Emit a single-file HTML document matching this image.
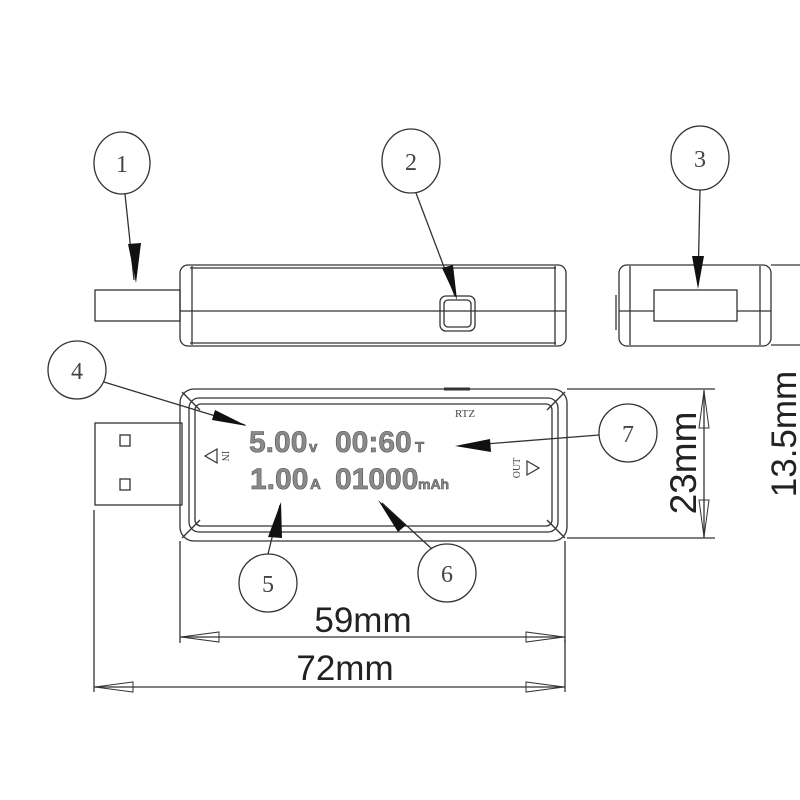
<!DOCTYPE html>
<html><head><meta charset="utf-8"><style>
html,body{margin:0;padding:0;background:#fff}
svg{display:block}
.t{font-family:"Liberation Serif",serif;fill:#444}
.d{font-family:"Liberation Sans",sans-serif;fill:#8a8a8a;stroke:#555;stroke-width:0.6;font-weight:bold}
.m{font-family:"Liberation Sans",sans-serif;fill:#222}
</style></head><body>
<svg width="800" height="800" viewBox="0 0 800 800" xmlns="http://www.w3.org/2000/svg">
<g fill="none" stroke="#333" stroke-width="1.3">
<rect x="95" y="290" width="85" height="31"/>
<rect x="180" y="265" width="386" height="81" rx="8"/>
<line x1="190" y1="268" x2="556" y2="268"/>
<line x1="190" y1="343" x2="556" y2="343"/>
<line x1="192" y1="266" x2="192" y2="345"/>
<line x1="555" y1="266" x2="555" y2="345"/>
<line x1="180" y1="311" x2="566" y2="311"/>
<rect x="440" y="296" width="35" height="35" rx="6"/>
<rect x="444" y="300" width="27" height="27" rx="4"/>
<rect x="619" y="265" width="152" height="81" rx="8"/>
<line x1="630" y1="266" x2="630" y2="345"/>
<line x1="760" y1="266" x2="760" y2="345"/>
<line x1="619" y1="311" x2="771" y2="311"/>
<rect x="654" y="290" width="83" height="31" fill="#fff"/>
<line x1="771" y1="265" x2="800" y2="265"/>
<line x1="771" y1="345" x2="800" y2="345"/>
<line x1="616" y1="295" x2="616" y2="330"/>
<rect x="95" y="423" width="87" height="82"/>
<rect x="120" y="435" width="10" height="11"/>
<rect x="120" y="479" width="10" height="11"/>
<rect x="180" y="389" width="387" height="152" rx="14"/>
<rect x="189" y="398" width="369" height="134" rx="10"/>
<rect x="195" y="404" width="357" height="122" rx="6"/>
<line x1="182" y1="392" x2="200" y2="410"/>
<line x1="565" y1="392" x2="547" y2="410"/>
<line x1="182" y1="538" x2="200" y2="520"/>
<line x1="565" y1="538" x2="547" y2="520"/>
<line x1="444" y1="389" x2="470" y2="389" stroke-width="3"/>
<polygon points="217,463 205,456 217,449" stroke-width="1.2"/>
<polygon points="527,461 539,468 527,475" stroke-width="1.2"/>
<ellipse cx="122" cy="163" rx="28" ry="31"/>
<ellipse cx="411" cy="161" rx="29" ry="32"/>
<ellipse cx="700" cy="158" rx="29" ry="32"/>
<circle cx="77" cy="370" r="29"/>
<circle cx="628" cy="433" r="29"/>
<circle cx="268" cy="583" r="29"/>
<circle cx="447" cy="573" r="29"/>
<line x1="125" y1="194" x2="134" y2="280"/>
<line x1="416" y1="193" x2="455" y2="296"/>
<line x1="700" y1="190" x2="698" y2="285"/>
<line x1="104" y1="382" x2="245" y2="425"/>
<line x1="599" y1="435" x2="460" y2="446"/>
<line x1="268" y1="554" x2="280" y2="505"/>
<line x1="432" y1="549" x2="382" y2="503"/>
<line x1="180" y1="541" x2="180" y2="643"/>
<line x1="565" y1="541" x2="565" y2="643"/>
<line x1="94" y1="510" x2="94" y2="692"/>
<line x1="565" y1="640" x2="565" y2="692"/>
<line x1="180" y1="637" x2="565" y2="637"/>
<line x1="94" y1="687" x2="565" y2="687"/>
<line x1="567" y1="389" x2="715" y2="389"/>
<line x1="567" y1="538" x2="715" y2="538"/>
<line x1="704" y1="390" x2="704" y2="538"/>
<polygon points="181,637 219,632 219,642" stroke-width="1"/>
<polygon points="564,637 526,632 526,642" stroke-width="1"/>
<polygon points="95,687 133,682 133,692" stroke-width="1"/>
<polygon points="564,687 526,682 526,692" stroke-width="1"/>
<polygon points="704,391 699,428 709,428" stroke-width="1"/>
<polygon points="704,537 699,500 709,500" stroke-width="1"/>
</g>
<g fill="#111">
<polygon points="136,283 128,244 141,243"/>
<polygon points="457,300 442,268 453,265"/>
<polygon points="698,289 692,256 704,256"/>
<polygon points="247,426 215,410 212,420"/>
<polygon points="455,446 490,439 491,452"/>
<polygon points="281,502 268,537 282,538"/>
<polygon points="378,500 406,525 398,532"/>
</g>
<g class="t" text-anchor="middle" font-size="24">
<text x="122" y="172">1</text>
<text x="411" y="170">2</text>
<text x="700" y="167">3</text>
<text x="77" y="379">4</text>
<text x="628" y="442">7</text>
<text x="268" y="592">5</text>
<text x="447" y="582">6</text>
</g>
<text class="t" x="455" y="417" font-size="11" fill="#777">RTZ</text>
<text class="t" font-size="10" transform="translate(222,456) rotate(90)" text-anchor="middle">IN</text>
<text class="t" font-size="10" transform="translate(520,468) rotate(-90)" text-anchor="middle">OUT</text>
<text class="d" x="249" y="452" font-size="30">5.00</text>
<text class="d" x="309" y="452" font-size="15">v</text>
<text class="d" x="335" y="452" font-size="30">00:60</text>
<text class="d" x="415" y="452" font-size="15">T</text>
<text class="d" x="250" y="489" font-size="30">1.00</text>
<text class="d" x="310" y="489" font-size="15">A</text>
<text class="d" x="335" y="489" font-size="30">01000</text>
<text class="d" x="418" y="489" font-size="14">mAh</text>
<g class="m" font-size="35" text-anchor="middle">
<text x="363" y="632">59mm</text>
<text x="345" y="680">72mm</text>
<text transform="translate(696,463) rotate(-90)" font-size="37">23mm</text>
<text transform="translate(796,434) rotate(-90)">13.5mm</text>
</g>
</svg>
</body></html>
